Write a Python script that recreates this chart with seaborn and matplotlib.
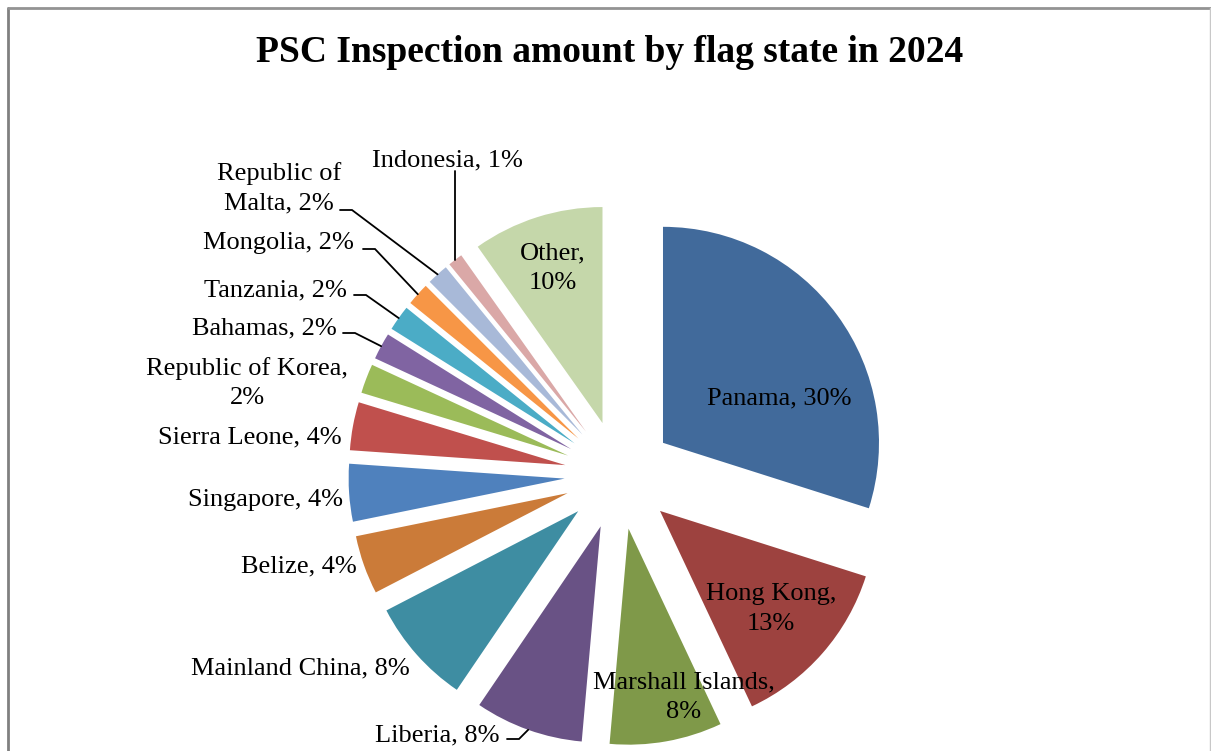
import numpy as np
import matplotlib
matplotlib.use("Agg")
import matplotlib.pyplot as plt
import seaborn as sns

# ---- data ----
flag_states = ["Panama", "Hong Kong", "Marshall Islands", "Liberia", "Mainland China",
               "Belize", "Singapore", "Sierra Leone", "Republic of Korea", "Bahamas",
               "Tanzania", "Mongolia", "Republic of Malta", "Indonesia", "Other"]
shares = [29.9, 13.1, 8.4, 8.1, 7.9, 4.4, 4.3, 3.6, 2.2, 2.0, 1.9, 1.7, 1.6, 1.1, 9.8]
colors = ["#416A9B", "#9D423F", "#7F9949", "#695285", "#3E8DA2", "#CB7B39",
          "#4F81BD", "#C0504D", "#9BBB59", "#8064A2", "#4BACC6", "#F79646",
          "#A8B9D8", "#DAA8A7", "#C5D7AA"]
title = "PSC Inspection amount by flag state in 2024"

# ---- layout (screen pixels, y downward) ----
W, H = 1211, 751
center_px = (619, 475)
radius_px = 216
explode_px = 54.5
label_text_names = {"Republic of Malta": "Republic of\nMalta"}
break_after_comma = {"Hong Kong", "Marshall Islands", "Other", "Republic of Korea"}
label_pos = {
    "Panama": (779, 398), "Hong Kong": (771, 609), "Marshall Islands": (684, 697),
    "Liberia": (437, 735), "Mainland China": (300, 668), "Belize": (299, 566),
    "Singapore": (265, 500), "Sierra Leone": (250, 437), "Republic of Korea": (247, 383),
    "Bahamas": (264, 328), "Tanzania": (275, 290), "Mongolia": (278, 243),
    "Republic of Malta": (279, 188), "Indonesia": (447, 160), "Other": (553, 268),
}
# leader start point and length of the short horizontal segment
leader_start = {
    "Republic of Malta": (340, 210), "Mongolia": (363, 249), "Tanzania": (354, 295),
    "Bahamas": (343, 333), "Liberia": (507, 739),
}
vertical_leaders = {"Indonesia": 171}
elbow = 12

sns.set_theme(style="white")
plt.rcParams["font.family"] = ["Liberation Serif", "DejaVu Serif"]

fig = plt.figure(figsize=(W / 100, H / 100), dpi=100)
ax = fig.add_axes([0, 0, 1, 1])

def sy(y):
    return H - y

cx, cy = center_px
wedges, _ = ax.pie(shares, colors=colors, startangle=90, counterclock=False,
                   explode=[explode_px] * len(shares), radius=radius_px,
                   center=(cx, sy(cy)), wedgeprops=dict(linewidth=0))
ax.set_xlim(0, W)
ax.set_ylim(0, H)
ax.set_aspect("equal")
ax.axis("off")

total = float(np.sum(shares))
for name, val, w in zip(flag_states, shares, wedges):
    pct = val / total * 100
    nm = label_text_names.get(name, name)
    sep = ",\n" if name in break_after_comma else ", "
    txt = f"{nm}{sep}{round(pct):.0f}%"
    lx, ly = label_pos[name]
    ax.text(lx, sy(ly), txt, ha="center", va="center", multialignment="center",
            fontsize=19, color="black", linespacing=1.45)
    # wedge outer mid point
    tm = np.deg2rad((w.theta1 + w.theta2) / 2)
    ex = w.center[0] + w.r * np.cos(tm)
    ey = w.center[1] + w.r * np.sin(tm)
    if name in leader_start:
        sx, syy = leader_start[name]
        ax.plot([sx, sx + elbow, ex], [sy(syy), sy(syy), ey], color="black", lw=1.3,
                solid_joinstyle="miter")
    elif name in vertical_leaders:
        ax.plot([ex, ex], [sy(vertical_leaders[name]), ey], color="black", lw=1.3)

ax.text(W / 2 + 4, sy(52), title, ha="center", va="center", fontsize=27,
        fontweight="bold", color="black")

# chart frame
ax.plot([8, 8], [sy(8), 0], color="#808080", lw=2, clip_on=False)
ax.plot([8, W], [sy(8), sy(8)], color="#939393", lw=2, clip_on=False)
ax.plot([1209.5, 1209.5], [sy(8), 0], color="#c8c8c8", lw=1, clip_on=False)

fig.savefig("out.png", dpi=100)
